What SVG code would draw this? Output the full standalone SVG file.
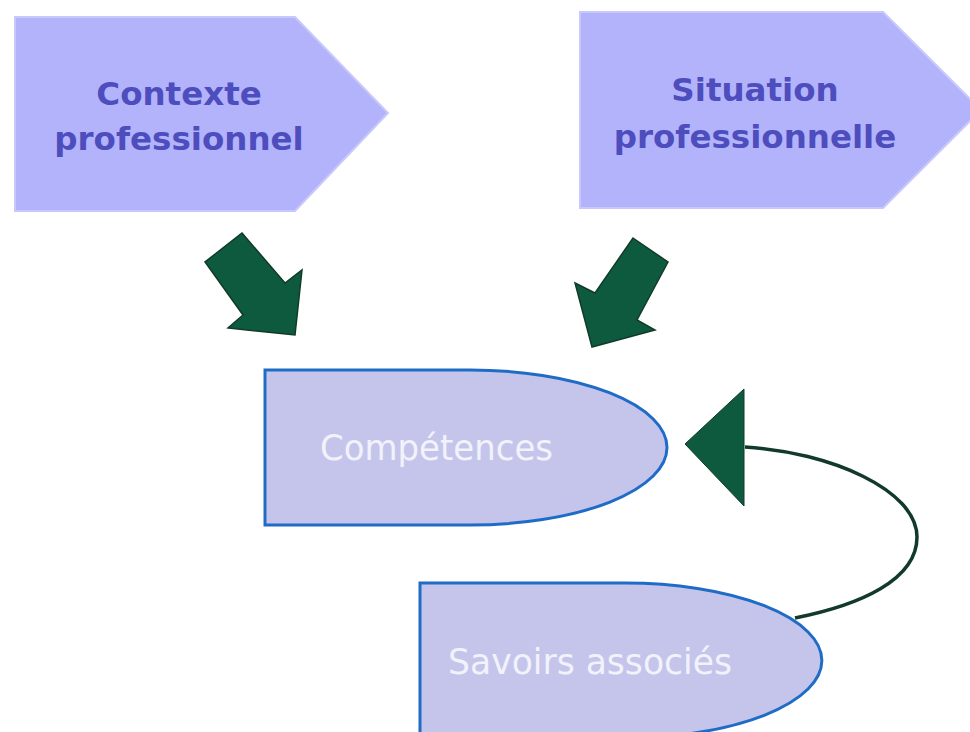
<svg xmlns="http://www.w3.org/2000/svg" width="970" height="732" viewBox="0 0 970 732">
  <defs>
    <style>
      .penta { fill: #b3b3fb; stroke: #c8c8fc; stroke-width: 2; }
      .ptext { font-family: "DejaVu Sans", Verdana, sans-serif; font-weight: bold; font-size: 32.5px; fill: #4d4dbd; text-anchor: middle; }
      .pill { fill: #c5c5ec; stroke: #1f6cc6; stroke-width: 3; }
      .stext { font-family: "DejaVu Sans", Verdana, sans-serif; font-size: 35px; fill: #f2f2fb; }
      .bigarrow { fill: #0e5a3f; stroke: #123a2a; stroke-width: 1.5; stroke-linejoin: miter; }
      .conn { fill: none; stroke: #123a2a; stroke-width: 3.5; }
      .head { fill: #0e5a3f; stroke: #123a2a; stroke-width: 1; }
    </style>
  </defs>
  <rect width="970" height="732" fill="#ffffff"/>

  <g id="contexte">
    <polygon class="penta" points="15,17 295,17 388,113 295,211 15,211"/>
    <text class="ptext" x="179" y="105">Contexte</text>
    <text class="ptext" x="179" y="150">professionnel</text>
  </g>

  <g id="situation">
    <polygon class="penta" points="580,12 883,12 981,110 883,208 580,208"/>
    <text class="ptext" x="755" y="101">Situation</text>
    <text class="ptext" x="755" y="148">professionnelle</text>
  </g>

  <g id="competences">
    <path class="pill" d="M265,370 L470,370 A197,77.5 0 0 1 470,525 L265,525 Z"/>
    <text class="stext" x="320" y="460" textLength="233" lengthAdjust="spacingAndGlyphs">Compétences</text>
  </g>

  <g id="savoirs">
    <path class="pill" d="M420,583 L625,583 A197,77.5 0 0 1 625,738 L420,738 Z"/>
    <text class="stext" x="448" y="674" textLength="284" lengthAdjust="spacingAndGlyphs">Savoirs associés</text>
  </g>

  <g id="connectors">
    <polygon class="bigarrow" points="242,233 285,283 302,270 295,335 228,328 243,315 205,262"/>
    <polygon class="bigarrow" points="633,238 668,262 637,320 655,330 592,347 575,283 595,293"/>
    <path class="conn" d="M795,618 C860,605 917,580 917,537 C917,490 830,452 745,447"/>
    <polygon class="head" points="685,444 744,389 744,506"/>
  </g>
</svg>
